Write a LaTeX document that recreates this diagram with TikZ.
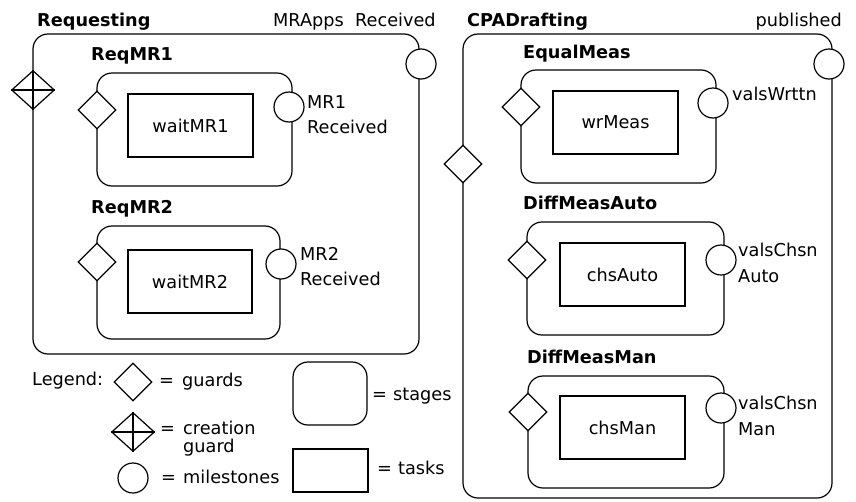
\documentclass[tikz,border=0pt]{standalone}
\usepackage{fontspec}
\setmainfont{DejaVu Sans}
\usetikzlibrary{shapes.geometric}
\newcommand\labelsize{\fontsize{17.7}{22}\selectfont}
\tikzset{
  lw/.style={line width=1.2pt},
  stage/.style={lw, draw, rounded corners=15pt, rectangle, inner sep=0pt},
  task/.style={lw, draw, rectangle, inner sep=0pt, minimum width=125pt, minimum height=63pt, font=\labelsize},
  guard/.style={lw, draw, fill=white, diamond, aspect=1, inner sep=0pt, minimum width=38pt, minimum height=38pt},
  cguard/.style={lw, draw, fill=white, diamond, inner sep=0pt, minimum width=43pt, minimum height=39pt},
  milestone/.style={lw, draw, fill=white, circle, inner sep=0pt, minimum size=30pt},
  txt/.style={inner sep=0pt, anchor=base west, font=\labelsize},
  title/.style={txt, font=\labelsize\bfseries},
}
\begin{document}
\begin{tikzpicture}[x=1pt, y=-1pt]
\useasboundingbox (0,0) rectangle (856,501);

% ---- Requesting ----
\node[title] (lRequesting) at (37,26) {Requesting};
\node[txt] (lMRApps) at (273,26) {MRApps\ \ Received};
\node[stage, minimum width=386pt, minimum height=320pt] (sRequesting) at (226,194) {};

\node[title] (lReqMR1) at (91,60) {ReqMR1};
\node[stage, minimum width=195pt, minimum height=113pt] (sReqMR1) at (194.5,129.5) {};
\node[task] (tWaitMR1) at (190.5,125.5) {waitMR1};
\node[guard] (gReqMR1) at (97,110) {};
\node[milestone] (mMR1) at (289,107) {};
\node[txt] (lMR1a) at (307,108) {MR1};
\node[txt] (lMR1b) at (307,133) {Received};

\node[title] (lReqMR2) at (91,213) {ReqMR2};
\node[stage, minimum width=183pt, minimum height=113pt] (sReqMR2) at (188.5,282.5) {};
\node[task, minimum width=124pt] (tWaitMR2) at (190,281.5) {waitMR2};
\node[guard] (gReqMR2) at (97,262) {};
\node[milestone] (mMR2) at (281,264) {};
\node[txt] (lMR2a) at (300,260) {MR2};
\node[txt] (lMR2b) at (300,285) {Received};

\node[cguard] (cgRequesting) at (33,90) {};
\draw[lw] (cgRequesting.north) -- (cgRequesting.south)
          (cgRequesting.west) -- (cgRequesting.east);
\node[milestone] (mMRApps) at (421,64) {};

% ---- CPADrafting ----
\node[title] (lCPADrafting) at (467,26) {CPADrafting};
\node[txt, anchor=base east] (lPublished) at (842,26) {published};
\node[stage, minimum width=369pt, minimum height=464pt] (sCPADrafting) at (647.5,266) {};
\node[guard] (gCPADrafting) at (463,164) {};
\node[milestone] (mPublished) at (829,64) {};

\node[title] (lEqualMeas) at (523,58) {EqualMeas};
\node[stage, minimum width=195pt, minimum height=113pt] (sEqualMeas) at (618.5,126.5) {};
\node[task] (tWrMeas) at (615.5,122.5) {wrMeas};
\node[guard] (gEqualMeas) at (521,107) {};
\node[milestone] (mValsWrttn) at (713,103) {};
\node[txt] (lValsWrttn) at (732,100) {valsWrttn};

\node[title] (lDiffMeasAuto) at (523,209) {DiffMeasAuto};
\node[stage, minimum width=197pt, minimum height=113pt] (sDiffMeasAuto) at (625.5,278.5) {};
\node[task] (tChsAuto) at (622.5,274.5) {chsAuto};
\node[guard] (gDiffMeasAuto) at (527,260) {};
\node[milestone] (mValsChsnAuto) at (721,260) {};
\node[txt] (lValsChsnAutoa) at (738,256) {valsChsn};
\node[txt] (lValsChsnAutob) at (738,282) {Auto};

\node[title] (lDiffMeasMan) at (527,363) {DiffMeasMan};
\node[stage, minimum width=196pt, minimum height=112pt] (sDiffMeasMan) at (626,432) {};
\node[task] (tChsMan) at (622.5,427.5) {chsMan};
\node[guard] (gDiffMeasMan) at (528,412) {};
\node[milestone] (mValsChsnMan) at (721,408) {};
\node[txt] (lValsChsnMana) at (738,409) {valsChsn};
\node[txt] (lValsChsnManb) at (738,435) {Man};

% ---- Legend ----
\node[txt] (lLegend) at (32,385) {Legend:};
\node[guard] (kGuard) at (133,382) {};
\node[txt] (eGuard) at (159,386) {=};
\node[txt] (kGuardTxt) at (182,386) {guards};

\node[cguard] (kCGuard) at (133,432) {};
\draw[lw] (kCGuard.north) -- (kCGuard.south)
          (kCGuard.west) -- (kCGuard.east);
\node[txt] (eCGuard) at (160,434) {=};
\node[txt] (kCGuardTxta) at (183,434) {creation};
\node[txt] (kCGuardTxtb) at (183,452) {guard};

\node[milestone] (kMilestone) at (133,478) {};
\node[txt] (eMilestone) at (161,483) {=};
\node[txt] (kMilestoneTxt) at (183,483) {milestones};

\node[stage, minimum width=74pt, minimum height=63pt] (kStage) at (330,393.5) {};
\node[txt] (eStage) at (372,400) {=};
\node[txt] (kStageTxt) at (393,400) {stages};

\node[lw, draw, rectangle, inner sep=0pt, minimum width=75pt, minimum height=43pt] (kTask) at (330.5,470.5) {};
\node[txt] (eTask) at (377,474) {=};
\node[txt] (kTaskTxt) at (398,474) {tasks};
\end{tikzpicture}
\end{document}
